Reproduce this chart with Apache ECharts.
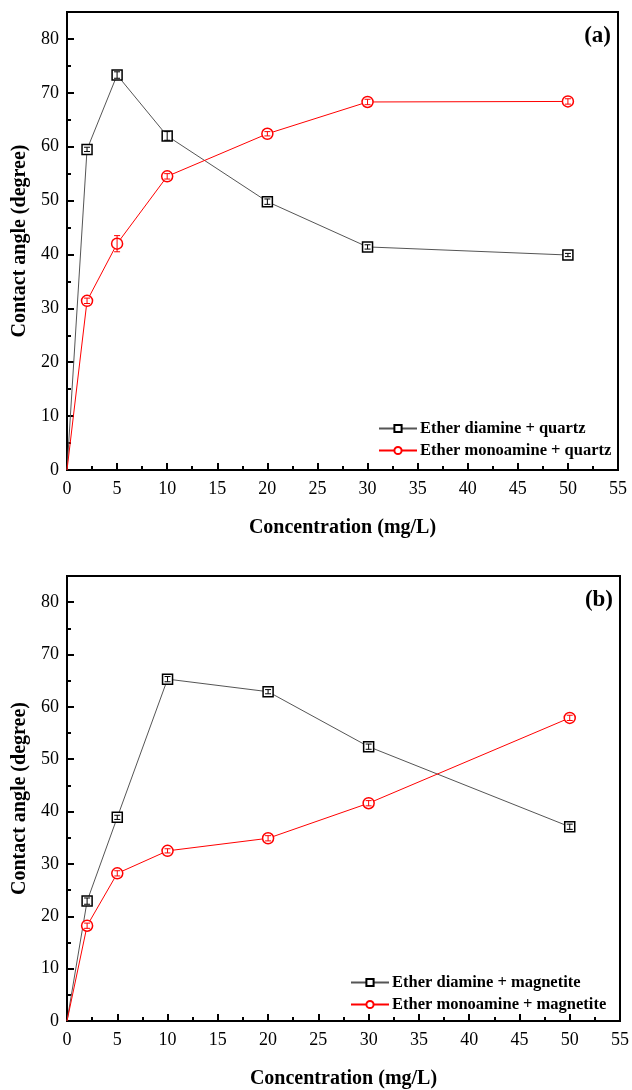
<!DOCTYPE html>
<html>
<head>
<meta charset="utf-8">
<script src="https://cdn.jsdelivr.net/npm/echarts@6/dist/echarts.min.js"></script>
<style>
  html, body { margin: 0; padding: 0; background: #fff; }
  #chart { width: 632px; height: 1090px; }
</style>
</head>
<body>
<div id="chart"></div>
<script>
// concentrations (mg/L)
const conc = [0, 2, 5, 10, 20, 30, 50];

// (a) quartz
const diamineQuartz = [0, 59.5, 73.3, 62.0, 49.8, 41.4, 39.9];
const diamineQuartzErr = [0, 0.4, 0.6, 0.8, 0.5, 0.4, 0.3];
const monoQuartz = [0, 31.4, 42.0, 54.5, 62.4, 68.3, 68.4];
const monoQuartzErr = [0, 0.5, 1.5, 0.5, 0.4, 0.5, 0.5];

// (b) magnetite
const diamineMag = [0, 22.9, 38.9, 65.3, 62.9, 52.4, 37.1];
const diamineMagErr = [0, 0.6, 0.4, 0.5, 0.4, 0.5, 0.5];
const monoMag = [0, 18.2, 28.2, 32.5, 34.9, 41.6, 57.9];
const monoMagErr = [0, 0.5, 0.5, 0.4, 0.5, 0.5, 0.5];

const xTicks = [0, 5, 10, 15, 20, 25, 30, 35, 40, 45, 50, 55];
const yTicks = [0, 10, 20, 30, 40, 50, 60, 70, 80];

const legendA = ["Ether diamine + quartz", "Ether monoamine + quartz"];
const legendB = ["Ether diamine + magnetite", "Ether monoamine + magnetite"];

const FONT = "'Liberation Serif', 'DejaVu Serif', serif";
const chart = echarts.init(document.getElementById("chart"));

function points(ys) {
  return conc.map((x, i) => (i === 0 ? { value: [x, ys[i]], symbolSize: 0 } : [x, ys[i]]));
}

function xAxisFor(idx) {
  return {
    type: "value", gridIndex: idx, min: 0, max: 55, interval: 5,
    name: "Concentration (mg/L)", nameLocation: "middle", nameGap: 48,
    nameTextStyle: { fontFamily: FONT, fontWeight: "bold", fontSize: 20, color: "#000" },
    axisLine: { lineStyle: { color: "#000", width: 2 } },
    axisTick: { inside: true, length: 7, lineStyle: { color: "#000", width: 2 } },
    minorTick: { show: true, splitNumber: 2, length: 4, lineStyle: { color: "#000", width: 2 } },
    axisLabel: {
      fontFamily: FONT, fontSize: 18, color: "#000", margin: 10,
      formatter: (v) => (xTicks.includes(v) ? String(v) : ""),
    },
    splitLine: { show: false },
  };
}

function yAxisFor(idx) {
  return {
    type: "value", gridIndex: idx, min: 0, max: 85, interval: 10,
    name: "Contact angle (degree)", nameLocation: "middle", nameGap: 30,
    nameTextStyle: { fontFamily: FONT, fontWeight: "bold", fontSize: 20, color: "#000" },
    axisLine: { lineStyle: { color: "#000", width: 2 } },
    axisTick: { inside: true, length: 7, lineStyle: { color: "#000", width: 2 } },
    minorTick: { show: true, splitNumber: 2, length: 4, lineStyle: { color: "#000", width: 2 } },
    axisLabel: {
      fontFamily: FONT, fontSize: 18, color: "#000", margin: 8,
      formatter: (v) => (yTicks.includes(v) ? String(v) : ""),
    },
    splitLine: { show: false },
  };
}

function lineSeries(name, ys, idx, color, symbol, lineColor) {
  return {
    name, type: "line", xAxisIndex: idx, yAxisIndex: idx,
    data: points(ys), symbol, symbolSize: symbol === "rect" ? 10 : 11,
    lineStyle: { color: lineColor, width: 1 },
    itemStyle: { color: "#fff", borderColor: color, borderWidth: 1.5 },
    z: 2,
  };
}

function errorSeries(ys, errs, idx, color) {
  return {
    type: "custom", xAxisIndex: idx, yAxisIndex: idx, z: 4, silent: true,
    data: conc.map((x, i) => [x, ys[i] - errs[i], ys[i] + errs[i]]).filter((d, i) => errs[i] > 0),
    renderItem: (params, api) => {
      const lo = api.coord([api.value(0), api.value(1)]);
      const hi = api.coord([api.value(0), api.value(2)]);
      const w = 3;
      const style = { stroke: color, lineWidth: 1 };
      return {
        type: "group",
        children: [
          { type: "line", shape: { x1: lo[0], y1: lo[1], x2: hi[0], y2: hi[1] }, style },
          { type: "line", shape: { x1: lo[0] - w, y1: lo[1], x2: lo[0] + w, y2: lo[1] }, style },
          { type: "line", shape: { x1: hi[0] - w, y1: hi[1], x2: hi[0] + w, y2: hi[1] }, style },
        ],
      };
    },
  };
}

function legendFor(names, left, top) {
  return {
    data: names, orient: "vertical", left, top, padding: 0,
    itemWidth: 38, itemHeight: 9, itemGap: 5,
    textStyle: { fontFamily: FONT, fontWeight: "bold", fontSize: 16.5, color: "#000", padding: [0, 0, 0, -2] },
  };
}

chart.setOption({
  animation: false,
  backgroundColor: "#fff",
  grid: [
    { left: 67, right: 14, top: 12, height: 458, show: true, borderColor: "#000", borderWidth: 2 },
    { left: 67, right: 12, top: 576, height: 446, show: true, borderColor: "#000", borderWidth: 2 },
  ],
  title: [
    { text: "(a)", right: 16, top: 20, textStyle: { fontFamily: FONT, fontWeight: "bold", fontSize: 23, color: "#000" } },
    { text: "(b)", right: 14, top: 584, textStyle: { fontFamily: FONT, fontWeight: "bold", fontSize: 23, color: "#000" } },
  ],
  legend: [legendFor(legendA, 378, 420), legendFor(legendB, 350, 974)],
  xAxis: [xAxisFor(0), xAxisFor(1)],
  yAxis: [yAxisFor(0), yAxisFor(1)],
  series: [
    lineSeries(legendA[0], diamineQuartz, 0, "#000", "rect", "#555"),
    lineSeries(legendA[1], monoQuartz, 0, "#ff0000", "circle", "#ff0000"),
    errorSeries(diamineQuartz, diamineQuartzErr, 0, "#000"),
    errorSeries(monoQuartz, monoQuartzErr, 0, "#ff0000"),
    lineSeries(legendB[0], diamineMag, 1, "#000", "rect", "#555"),
    lineSeries(legendB[1], monoMag, 1, "#ff0000", "circle", "#ff0000"),
    errorSeries(diamineMag, diamineMagErr, 1, "#000"),
    errorSeries(monoMag, monoMagErr, 1, "#ff0000"),
  ],
});
</script>
</body>
</html>
